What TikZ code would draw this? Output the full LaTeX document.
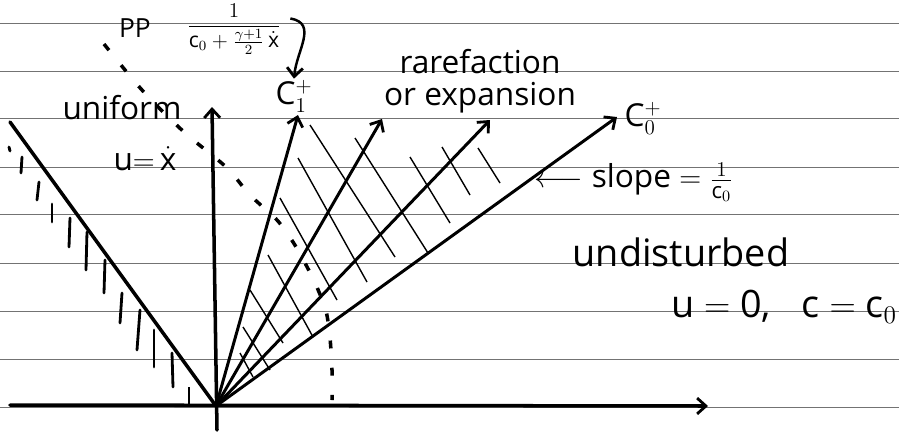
\documentclass[tikz,border=0pt]{standalone}
\usepackage{amsmath}
\usepackage{fontspec}
\setmainfont{Open Sans}
\usetikzlibrary{positioning,arrows.meta}

\begin{document}
\begin{tikzpicture}[
  x=0.02cm, y=-0.02cm,
  rule/.style={draw=black!55, line width=0.45pt},
  axis/.style={line width=2pt, line cap=round},
  tip/.style={-{Straight Barb[length=5pt,width=9pt,line width=1.6pt]}},
  ray/.style={line width=1.7pt, line cap=round, tip},
  wave/.style={line width=0.8pt},
  hatch/.style={line width=1.6pt, line cap=round},
  pp/.style={line width=2pt, dash pattern=on 4.5pt off 11pt},
  hand/.style={font=\fontsize{18}{20}\selectfont, inner sep=0.5pt},
  big/.style={font=\fontsize{21.5}{23}\selectfont, inner sep=0.5pt}
]
\useasboundingbox (0,0) rectangle (899,433);

% notebook rules
\foreach \y in {23,71,118,167,214,263,311,359,407}
  \draw[rule] (0,\y) -- (899,\y);

% axes and fan
\coordinate (O) at (216,406);
\coordinate (xl) at (10,405);
\coordinate (xr) at (708,406);
\coordinate (tb) at (217,430);
\coordinate (tt) at (212,107);
\coordinate (wall) at (10,122);
\coordinate (c1tip) at (298,115);
\coordinate (r2tip) at (382,119);
\coordinate (r3tip) at (490,120);
\coordinate (c0tip) at (617,117);

\draw[axis, tip] (xl) -- (xr);
\draw[axis, tip] (tb) -- (tt);
\draw[axis] (wall) -- (O);
\foreach \t in {c1tip,r2tip,r3tip,c0tip}
  \draw[ray] (O) -- (\t);

% C- waves crossing the fan
\foreach \xa/\ya/\xb/\yb in {240/353/253/377, 243/327/270/370, 250/290/283/343,
    268/255/313/337, 280/198/337/300, 298/158/367/282, 310/125/395/257,
    355/138/428/253, 410/157/450/223, 442/147/470/195, 478/148/500/183}
  \draw[wave] (\xa,\ya) -- (\xb,\yb);

% hatching on the left wall
\foreach \xa/\ya/\xb/\yb in {22/157/21/173, 39/182/37/200, 52/204/52/222,
    70/218/69/247, 87/232/86/270, 105/260/104/293, 122/293/120/323,
    140/310/137/350, 154/330/154/367, 172/353/173/387}
  \draw[hatch] (\xa,\ya) -- (\xb,\yb);
\draw[hatch] (9,147) -- (10,151);
\draw[wave] (189,387) -- (189,405);

% particle path
\draw[pp] plot[smooth] coordinates {(104,44) (142,90) (184,132) (226,167)
  (250,195) (277,220) (293,242) (305,263) (316,285) (326,311) (330,338)
  (332,370) (332,400)};

% labels
\node[hand, font=\fontsize{15}{17}\selectfont] (pp) at (135,28) {PP};
\node[inner sep=0pt, font=\large] (frac) at (234,29)
  {$\dfrac{1}{\mathrm{c}_0+\frac{\gamma+1}{2}\,\dot{\mathrm{x}}}$};
\node[hand] (uni) at (122,108) {uniform};
\node[hand] (uval) at (145,159) {u${=}\,\dot{\mathrm{x}}$};
\node[hand] (c1) at (294,96) {C$_1^{+}$};
\node[hand] (c0) at (643,118) {C$_0^{+}$};
\node[hand] (rare) at (480,62) {rarefaction};
\node[hand, below=3pt of rare] (expn) {or expansion};
\node[hand] (slope) at (634,182) {$\longleftarrow$ slope $=\frac{1}{\mathrm{c}_0}$};
\node[big] (und) at (681,252) {undisturbed};
\node[big] (still) at (784,307) {u $=$ 0,\;\; c $=$ c$_0$};

\draw[line width=1.4pt, tip] ([xshift=5pt,yshift=6pt]frac.east)
  to[out=-10,in=85,looseness=1.2] (c1.north);
\end{tikzpicture}
\end{document}
